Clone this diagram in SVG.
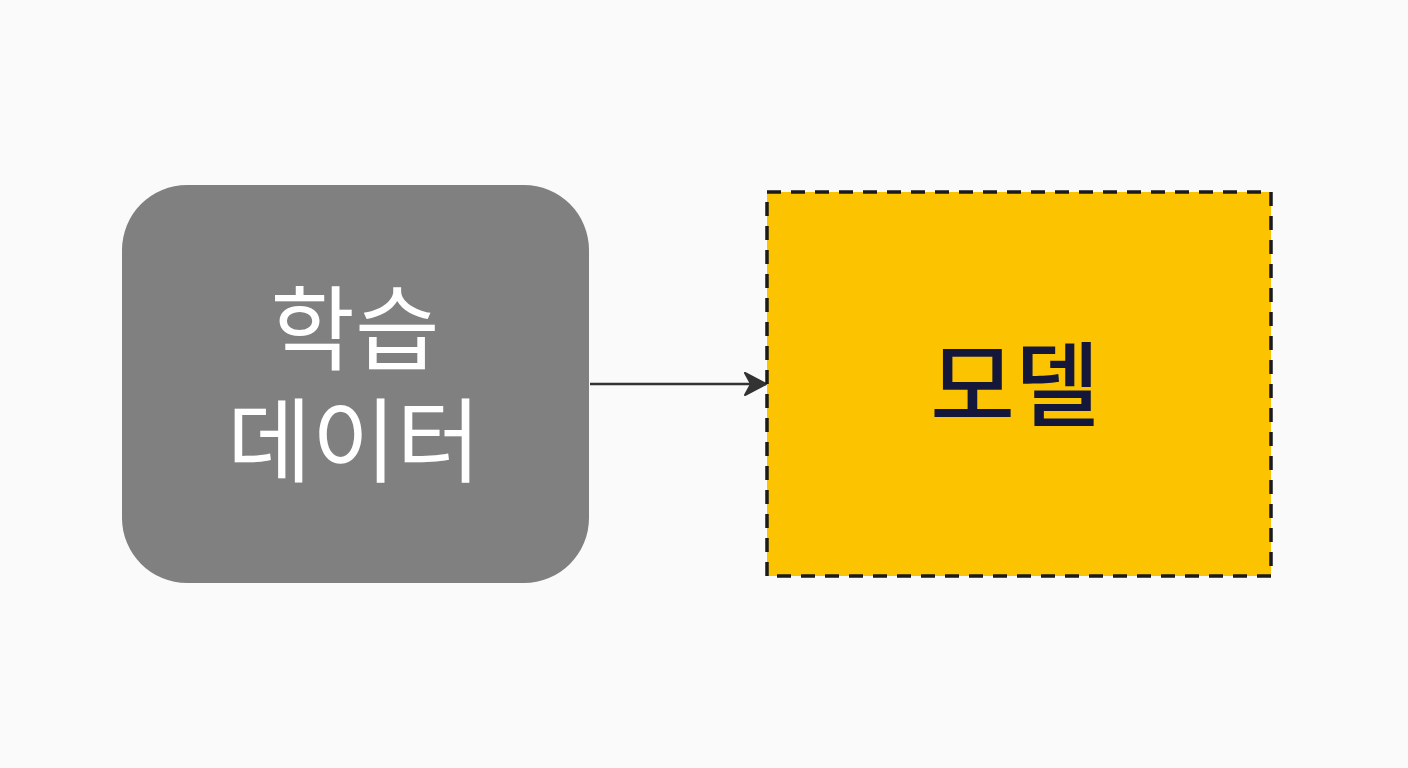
<svg xmlns="http://www.w3.org/2000/svg" width="1408" height="768" viewBox="0 0 1408 768">
  <defs>
    <style>
      .lbl { font-family: "Noto Sans CJK KR", "Noto Sans", sans-serif; font-size: 92px; text-anchor: middle; dominant-baseline: central; }
    </style>
    <marker id="arr" viewBox="0 0 26 26" refX="24" refY="13" markerWidth="26" markerHeight="26" markerUnits="userSpaceOnUse" orient="auto">
      <path d="M3,2 L24,13 L3,24 L9,13 Z" fill="#333333" stroke="#333333" stroke-width="2" stroke-linejoin="round"/>
    </marker>
  </defs>
  <rect width="1408" height="768" fill="#fafafa"/>
  <g id="connectors">
    <line x1="590" y1="384" x2="766" y2="384" stroke="#333333" stroke-width="2.5" marker-end="url(#arr)"/>
  </g>
  <g id="node-data">
    <rect x="122" y="185" width="467" height="398" rx="65" ry="65" fill="#808080"/>
    <text class="lbl" fill="#ffffff"><tspan x="355" y="322">학습</tspan><tspan x="354" y="434">데이터</tspan></text>
  </g>
  <g id="node-model">
    <rect x="767" y="192" width="504" height="384" fill="#fcc400" stroke="#1a1a1a" stroke-width="3.5" stroke-dasharray="14 10"/>
    <text class="lbl" x="1015" y="378" fill="#14173a" font-weight="500">모델</text>
  </g>
</svg>
